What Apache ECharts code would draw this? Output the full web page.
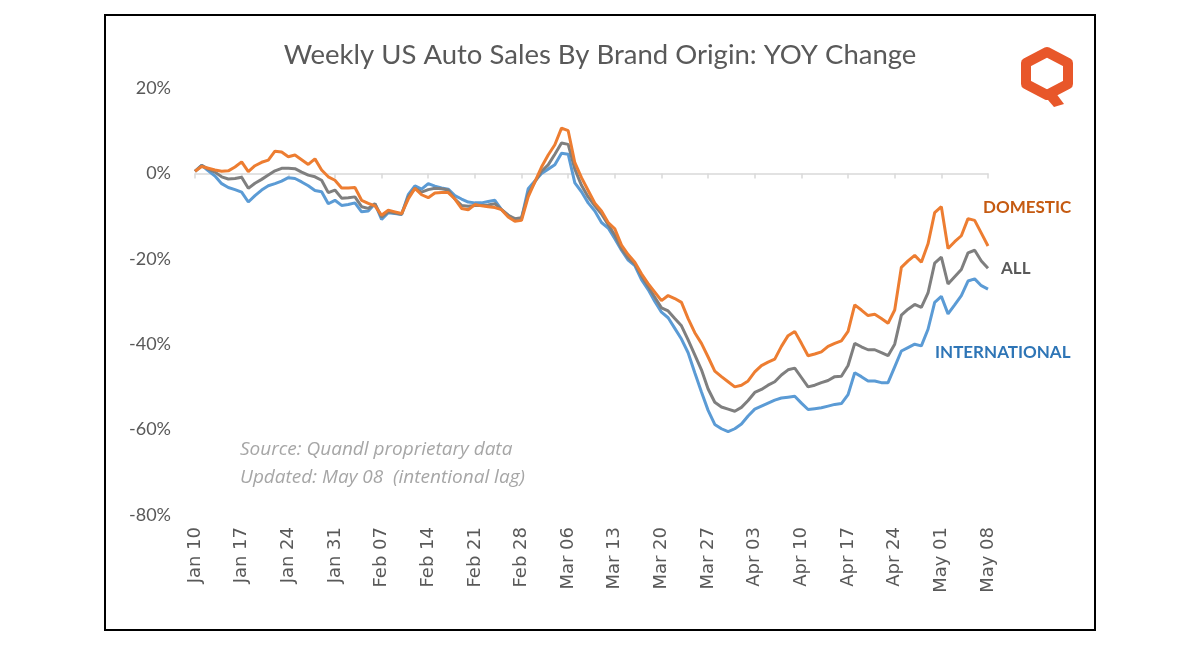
<!DOCTYPE html>
<html>
<head>
<meta charset="utf-8">
<script src="https://cdn.jsdelivr.net/npm/echarts@6/dist/echarts.min.js"></script>
<style>
html,body{margin:0;padding:0;background:#fff;}
#chart{width:1200px;height:655px;}
</style>
</head>
<body>
<div id="chart"></div>
<script>
// ---- Data ----
const startDay = [2020, 0, 10];   // Jan 10, 2020
const dayCount = 120;             // Jan 10 .. May 08
const monthNames = ['Jan','Feb','Mar','Apr','May','Jun','Jul','Aug','Sep','Oct','Nov','Dec'];
const categories = [];
for (let i = 0; i < dayCount; i++) {
  const d = new Date(startDay[0], startDay[1], startDay[2] + i);
  const dd = d.getDate();
  categories.push(monthNames[d.getMonth()] + ' ' + (dd < 10 ? '0' + dd : '' + dd));
}
const yTicks = [-80, -60, -40, -20, 0, 20];

const domestic = [
  0.5, 1.6, 1.2, 0.8, 0.5, 0.6, 1.5, 2.7, 0.4, 1.8,
  2.6, 3.1, 5.2, 5.0, 3.9, 4.3, 3.2, 2.1, 3.4, 0.8,
  -0.8, -1.6, -3.4, -3.4, -3.3, -6.3, -7.0, -7.6, -9.8, -8.6,
  -9.0, -9.4, -6.0, -3.5, -5.0, -5.7, -4.6, -4.5, -4.5, -6.0,
  -8.2, -8.5, -7.3, -7.6, -7.8, -8.0, -8.5, -10.2, -11.2, -11.0,
  -5.5, -2.0, 1.5, 4.3, 6.7, 10.6, 10.0, 2.5, -1.0, -4.0,
  -7.0, -8.8, -11.5, -13.0, -16.8, -19.0, -20.8, -23.5, -25.8, -27.8,
  -29.8, -28.6, -29.3, -30.2, -34.0, -37.3, -39.8, -43.0, -46.3, -47.6,
  -48.8, -50.0, -49.6, -48.6, -46.5, -45.0, -44.2, -43.5, -40.5, -38.0,
  -37.0, -39.8, -42.7, -42.3, -41.8, -40.5, -39.8, -39.2, -37.0, -30.8,
  -32.0, -33.3, -33.0, -34.0, -35.1, -32.0, -22.0, -20.5, -19.2, -20.8,
  -16.5, -9.2, -7.8, -17.6, -16.0, -14.6, -10.6, -11.0, -14.0, -17.0
];
const allBrands = [
  0.5, 1.9, 1.0, 0.3, -0.8, -1.3, -1.2, -0.9, -3.5, -2.3,
  -1.4, -0.4, 0.6, 1.2, 1.2, 1.1, 0.3, -0.4, -0.8, -1.6,
  -4.5, -3.9, -5.8, -5.7, -5.5, -7.8, -8.2, -7.1, -10.2, -9.0,
  -9.3, -9.6, -5.5, -3.5, -4.4, -3.8, -3.5, -3.6, -3.9, -6.0,
  -7.5, -7.7, -7.5, -7.5, -7.4, -7.1, -8.5, -9.8, -10.6, -10.4,
  -4.8, -2.0, 0.5, 2.0, 4.5, 7.1, 6.8, 1.0, -2.8, -5.5,
  -7.6, -9.5, -12.0, -14.5, -17.6, -19.8, -21.2, -24.0, -26.5, -29.0,
  -31.5, -32.2, -34.0, -35.7, -39.0, -42.5, -46.0, -50.5, -53.6, -54.7,
  -55.2, -55.7, -54.8, -53.2, -51.3, -50.6, -49.6, -48.8, -47.2, -46.0,
  -45.6, -47.8, -50.0, -49.6, -49.0, -48.5, -47.6, -47.5, -45.0, -39.8,
  -40.6, -41.3, -41.3, -42.0, -42.7, -40.0, -33.2, -31.8, -30.7, -31.4,
  -28.0, -21.0, -19.6, -25.9, -24.2, -22.5, -18.6, -18.0, -20.5, -22.2
];
const international = [
  0.5, 1.9, 0.6, -0.6, -2.4, -3.3, -3.8, -4.4, -6.7, -5.2,
  -3.9, -2.9, -2.4, -1.8, -1.0, -1.2, -2.0, -2.9, -4.0, -4.3,
  -7.1, -6.3, -7.5, -7.3, -6.9, -9.0, -8.8, -7.1, -10.8, -9.2,
  -9.4, -9.6, -5.0, -2.9, -3.7, -2.4, -3.0, -3.4, -3.7, -5.2,
  -6.0, -6.7, -6.9, -6.9, -6.6, -6.3, -8.5, -9.8, -10.9, -10.6,
  -3.6, -1.8, 0.0, 1.0, 2.0, 4.7, 4.5, -2.2, -4.3, -6.9,
  -8.8, -11.5, -12.8, -15.3, -18.0, -20.3, -21.6, -24.9, -27.2, -30.0,
  -32.5, -33.8, -36.3, -38.8, -42.0, -46.7, -51.2, -55.5, -58.8, -59.8,
  -60.5, -59.8, -58.7, -56.8, -55.2, -54.5, -53.8, -53.1, -52.6, -52.4,
  -52.2, -53.8, -55.3, -55.1, -54.9, -54.5, -54.1, -53.9, -51.8, -46.7,
  -47.6, -48.6, -48.6, -49.0, -49.0, -45.3, -41.6, -40.8, -40.0, -40.4,
  -36.5, -30.2, -28.8, -32.9, -30.8, -28.6, -25.2, -24.7, -26.3, -27.1
];

// ---- Chart ----
const chart = echarts.init(document.getElementById('chart'), null, {renderer: 'canvas'});
const textGray = '#595959';

const option = {
  backgroundColor: '#ffffff',
  animation: false,
  title: {
    text: 'Weekly US Auto Sales By Brand Origin: YOY Change',
    left: 'center',
    top: 36,
    textStyle: {fontFamily: 'Lato', fontSize: 27.5, fontWeight: 'normal', color: textGray}
  },
  grid: {left: 195, right: 212, top: 88, bottom: 140, containLabel: false},
  xAxis: [
    {
      type: 'category',
      data: categories,
      boundaryGap: false,
      position: 'bottom',
      axisLine: {show: false, onZero: false},
      axisTick: {show: false},
      splitLine: {show: false},
      axisLabel: {
        interval: 6,
        rotate: 90,
        margin: 12,
        fontFamily: 'DejaVu Sans',
        fontSize: 18,
        color: textGray
      }
    },
    {
      type: 'category',
      data: categories,
      boundaryGap: false,
      position: 'bottom',
      axisLine: {show: true, onZero: true, lineStyle: {color: '#d9d9d9', width: 1.5}},
      axisTick: {show: true, interval: 6, length: 5, inside: false, lineStyle: {color: '#d9d9d9', width: 1.5}},
      axisLabel: {show: false},
      splitLine: {show: false}
    }
  ],
  yAxis: {
    type: 'value',
    min: yTicks[0],
    max: yTicks[yTicks.length - 1],
    interval: 20,
    axisLine: {show: false},
    axisTick: {show: false},
    splitLine: {show: false},
    axisLabel: {
      margin: 24,
      fontFamily: 'Lato',
      fontSize: 18,
      color: textGray,
      formatter: v => v + '%'
    }
  },
  series: [
    {name: 'INTERNATIONAL', type: 'line', data: international, showSymbol: false, symbol: 'none',
     lineStyle: {color: '#5B9BD5', width: 3}, itemStyle: {color: '#5B9BD5'}, z: 3},
    {name: 'ALL', type: 'line', data: allBrands, showSymbol: false, symbol: 'none',
     lineStyle: {color: '#7F7F7F', width: 3}, itemStyle: {color: '#7F7F7F'}, z: 4},
    {name: 'DOMESTIC', type: 'line', data: domestic, showSymbol: false, symbol: 'none',
     lineStyle: {color: '#ED7D31', width: 3}, itemStyle: {color: '#ED7D31'}, z: 5}
  ],
  graphic: [
    {type: 'rect', shape: {x: 105, y: 15, width: 990, height: 615},
     style: {fill: 'none', stroke: '#000', lineWidth: 2}, z: 100},
    {type: 'text', left: 983, top: 199,
     style: {text: 'DOMESTIC', fontFamily: 'Lato', fontWeight: 'bold', fontSize: 17, fill: '#C55A11'}},
    {type: 'text', left: 1001, top: 260,
     style: {text: 'ALL', fontFamily: 'Lato', fontWeight: 'bold', fontSize: 17, fill: textGray}},
    {type: 'text', left: 935, top: 344,
     style: {text: 'INTERNATIONAL', fontFamily: 'Lato', fontWeight: 'bold', fontSize: 17, fill: '#2E75B6'}},
    {type: 'text', left: 240, top: 440,
     style: {text: 'Source: Quandl proprietary data', fontFamily: 'Open Sans', fontStyle: 'italic', fontSize: 19, fill: '#A6A6A6'}},
    {type: 'text', left: 240, top: 468,
     style: {text: 'Updated: May 08  (intentional lag)', fontFamily: 'Open Sans', fontStyle: 'italic', fontSize: 19, fill: '#A6A6A6'}},
    // Quandl-style logo
    {type: 'polygon',
     shape: {points: [[1047, 52], [1068, 63], [1068, 84], [1047, 95], [1026, 84], [1026, 63]]},
     style: {fill: 'none', stroke: '#E8572A', lineWidth: 10, lineJoin: 'round'}},
    {type: 'polygon',
     shape: {points: [[1042, 93], [1052, 88], [1064, 104], [1054, 107]]},
     style: {fill: '#E8572A'}}
  ]
};
chart.setOption(option);
</script>
</body>
</html>
